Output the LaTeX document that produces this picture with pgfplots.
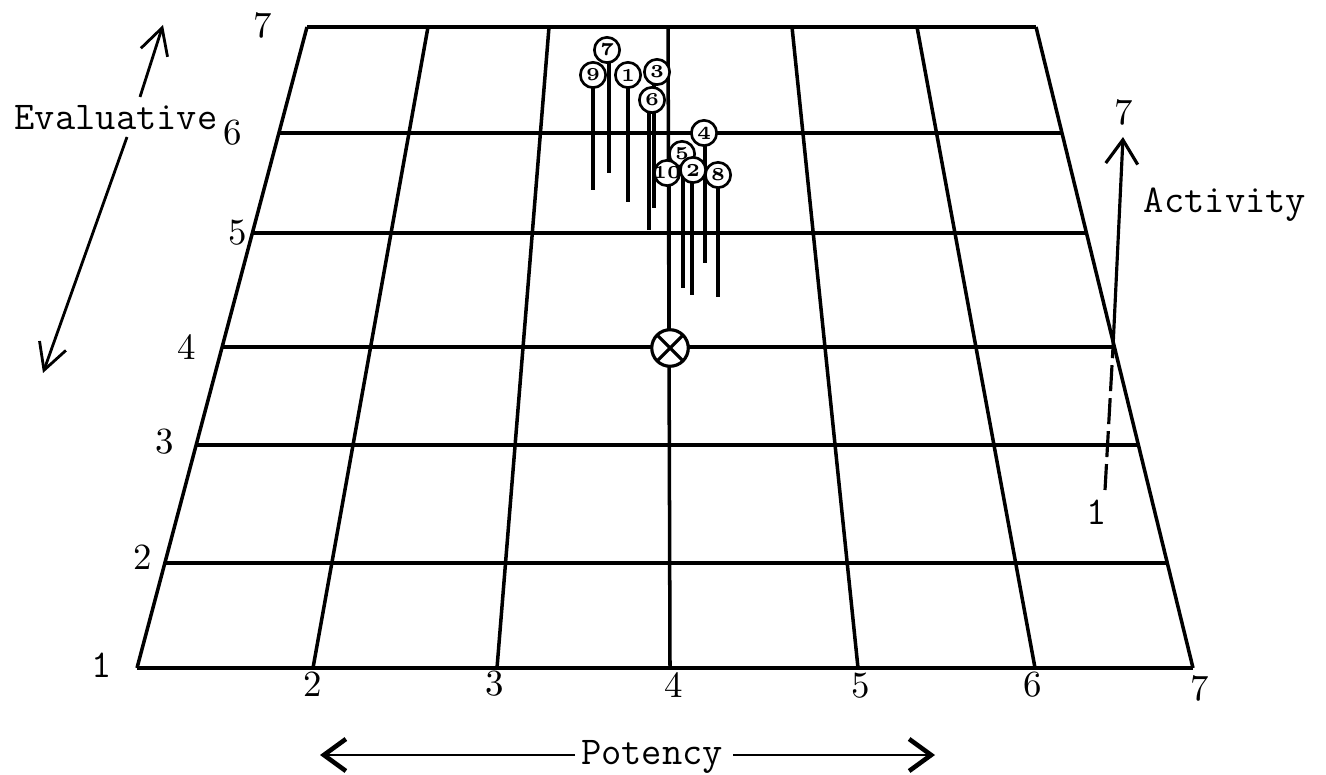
\documentclass[border=0pt]{standalone}
\usepackage{pgfplots}
\pgfplotsset{compat=1.18}
\usetikzlibrary{arrows.meta}
\begin{document}
\begin{tikzpicture}
\pgfplotsset{
  gridline/.style={black, line width=1pt, forget plot},
  stem/.style={black, line width=0.9pt, forget plot},
}
\tikzset{
  hand/.style={font=\fontsize{10.5}{12}\selectfont, inner sep=0pt},
  tw/.style={font=\ttfamily\fontsize{11.2}{13}\selectfont, inner sep=0pt},
}
\begin{axis}[width=13.26cm, height=7.74cm, scale only axis,
  xmin=0, xmax=1326, ymin=0, ymax=774, y dir=reverse,
  hide axis, clip=false]
\addplot[draw=none, forget plot] coordinates {(0,0) (1326,774)};
% horizontal grid lines (Evaluative 7..1)
\addplot[gridline] coordinates {(307,27) (1036,27)};
\addplot[gridline] coordinates {(279,133) (1062,133)};
\addplot[gridline] coordinates {(252,233) (1086,233)};
\addplot[gridline] coordinates {(222,347) (1114,347)};
\addplot[gridline] coordinates {(196,445) (1138,445)};
\addplot[gridline] coordinates {(165,563) (1167,563)};
\addplot[gridline] coordinates {(137,668) (1193,668)};
% converging grid lines (Potency 1..7)
\addplot[gridline] coordinates {(307,27) (137,668)};
\addplot[gridline] coordinates {(428,27) (313,668)};
\addplot[gridline] coordinates {(549,27) (497,668)};
\addplot[gridline] coordinates {(668,27) (670,668)};
\addplot[gridline] coordinates {(792,27) (858,668)};
\addplot[gridline] coordinates {(917,27) (1035,668)};
\addplot[gridline] coordinates {(1036,27) (1193,668)};
% stems
\addplot[stem] coordinates {(593,87) (593,190)};
\addplot[stem] coordinates {(609,62) (609,173)};
\addplot[stem] coordinates {(628,87) (628,202)};
\addplot[stem] coordinates {(654,84) (654,208)};
\addplot[stem] coordinates {(649,112) (649,230)};
\addplot[stem] coordinates {(705,145) (705,263)};
\addplot[stem] coordinates {(683,166) (683,288)};
\addplot[stem] coordinates {(669,184) (669,335)};
\addplot[stem] coordinates {(692,182) (692,295)};
\addplot[stem] coordinates {(718,187) (718,297)};
% circled stimuli
\addplot[only marks, mark=*, mark size=3.6pt,
  mark options={fill=white, draw=black, line width=0.75pt},
  nodes near coords, point meta=explicit symbolic,
  every node near coord/.append style={anchor=center, inner sep=0pt,
    font=\bfseries\fontsize{5.2}{6}\selectfont}]
  table[meta=lab] {
x y lab
607 50 7
593 75 9
628 75 1
657 72 3
652 100 6
704 133 4
682 154 5
667 173 10
693 170 2
718 175 8
};
% origin X
\addplot[only marks, mark=otimes*, mark size=5.2pt,
  mark options={fill=white, draw=black, line width=0.9pt}] coordinates {(670,348)};
% Evaluative arrow
\addplot[black, line width=0.8pt, -{Straight Barb[length=2.6mm, width=2.8mm]}] coordinates {(140,97) (163,25)};
\addplot[black, line width=0.8pt, -{Straight Barb[length=2.6mm, width=2.8mm]}] coordinates {(127,137) (43,373)};
% Potency arrow
\addplot[black, line width=0.8pt, -{Straight Barb[length=2.2mm, width=3.2mm, line width=1.3pt]}] coordinates {(575,755) (320,755)};
\addplot[black, line width=0.8pt, -{Straight Barb[length=2.2mm, width=3.2mm, line width=1.3pt]}] coordinates {(733,755) (935,755)};
% Activity arrow
\addplot[black, line width=0.9pt, -{Straight Barb[length=2.4mm, width=3.2mm]}] coordinates {(1113,347) (1123,137)};
\addplot[black, line width=0.9pt, dash pattern=on 2.6mm off 0.7mm] coordinates {(1105,490) (1113,347)};
% labels
\node[hand] at (axis cs:263,25) {7};
\node[hand] at (axis cs:233,133) {6};
\node[hand] at (axis cs:238,233) {5};
\node[hand] at (axis cs:187,347) {4};
\node[hand] at (axis cs:165,442) {3};
\node[hand] at (axis cs:143,557) {2};
\node[tw] at (axis cs:102,665) {1};
\node[hand] at (axis cs:313,684) {2};
\node[hand] at (axis cs:495,684) {3};
\node[hand] at (axis cs:674,685) {4};
\node[hand] at (axis cs:861,686) {5};
\node[hand] at (axis cs:1033,685) {6};
\node[hand] at (axis cs:1200,688) {7};
\node[hand] at (axis cs:1124,112) {7};
\node[tw] at (axis cs:1097,512) {1};
\node[tw] at (axis cs:116,118) {Evaluative};
\node[tw] at (axis cs:1225,205) {Activity};
\node[tw] at (axis cs:652,757) {Potency};
\end{axis}
\end{tikzpicture}
\end{document}
